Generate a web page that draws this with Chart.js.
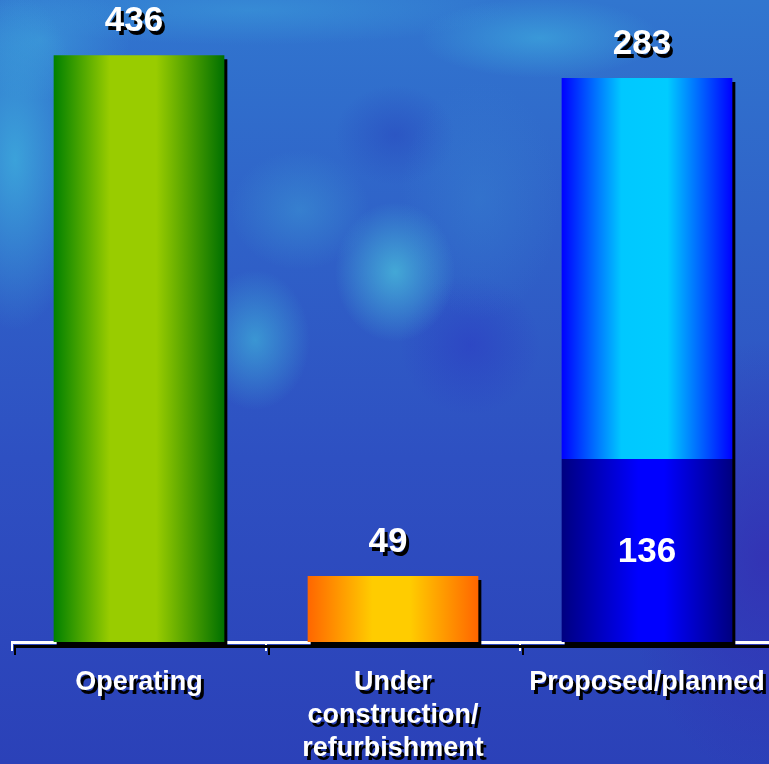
<!DOCTYPE html>
<html>
<head>
<meta charset="utf-8">
<script src="https://cdn.jsdelivr.net/npm/chart.js@4.4.1/dist/chart.umd.min.js"></script>
<style>
    html, body { margin: 0; padding: 0; width: 769px; height: 764px; overflow: hidden; }
    #bg {
        position: absolute; left: 0; top: 0; width: 769px; height: 764px;
        background:
            radial-gradient(ellipse 70px 170px at 15px 160px, rgba(62,176,222,0.8), rgba(62,176,222,0)),
            radial-gradient(ellipse 90px 60px at 40px 40px, rgba(62,160,220,0.6), rgba(62,160,220,0)),
            radial-gradient(ellipse 120px 40px at 540px 38px, rgba(62,172,222,0.65), rgba(62,172,222,0)),
            radial-gradient(ellipse 260px 35px at 250px 10px, rgba(60,160,220,0.5), rgba(60,160,220,0)),
            radial-gradient(ellipse 60px 70px at 395px 272px, rgba(72,186,218,0.8), rgba(72,186,218,0)),
            radial-gradient(ellipse 55px 70px at 255px 340px, rgba(62,170,216,0.75), rgba(62,170,216,0)),
            radial-gradient(ellipse 70px 60px at 300px 210px, rgba(60,150,212,0.55), rgba(60,150,212,0)),
            radial-gradient(ellipse 80px 120px at 480px 200px, rgba(55,130,208,0.45), rgba(55,130,208,0)),
            radial-gradient(ellipse 60px 50px at 395px 135px, rgba(40,70,190,0.55), rgba(40,70,190,0)),
            radial-gradient(ellipse 70px 70px at 470px 345px, rgba(44,60,195,0.6), rgba(44,60,195,0)),
            radial-gradient(ellipse 140px 220px at 765px 560px, rgba(52,46,178,0.8), rgba(52,46,178,0)),
            linear-gradient(to bottom, #3176cf 0%, #2f62c8 30%, #2e50c2 60%, #2b41b8 100%);
    }
    #wrap { position: absolute; left: 0; top: 0; width: 774px; height: 764px; }
</style>
</head>
<body>
<div id="bg"></div>
<div id="wrap"><canvas id="chart"></canvas></div>
<script>
// categorias e valores
const categories = ['Operating', ['Under', 'construction/', 'refurbishment'], 'Proposed/planned'];
const baseValues = [436, 49, 136];
const topValues = [null, null, 283];
const yMax = 477;

const barPct = 0.672;
const fontFamily = "'Liberation Sans', Arial, sans-serif";

// gradientes horizontais de cada barra
const baseStops = [
    [[0, '#008000'], [0.33, '#99cc00'], [0.6, '#99cc00'], [1, '#007000']],
    [[0, '#ff6600'], [0.38, '#ffcc00'], [0.6, '#ffcc00'], [1, '#ff6600']],
    [[0, '#000080'], [0.45, '#0000ff'], [0.6, '#0000ff'], [1, '#000080']]
];
const topStops = [null, null, [[0, '#0000ff'], [0.35, '#00c8ff'], [0.62, '#00ccff'], [1, '#0000ff']]];

function barFill(ctx, stopsList) {
    const stops = stopsList[ctx.dataIndex];
    if (!stops) return 'transparent';
    const chart = ctx.chart;
    const x = chart.scales.x;
    if (!chart.chartArea || !x) return stops[1][1];
    const half = (x.width / categories.length) * barPct / 2;
    const cx = x.getPixelForValue(ctx.dataIndex);
    const g = chart.ctx.createLinearGradient(cx - half, 0, cx + half, 0);
    stops.forEach(s => g.addColorStop(s[0], s[1]));
    return g;
}

// sombra preta em tudo
const shadowPlugin = {
    id: 'shadow',
    beforeDraw(chart) {
        const c = chart.ctx;
        c.shadowColor = '#000';
        c.shadowOffsetX = 3;
        c.shadowOffsetY = 4;
        c.shadowBlur = 0;
    },
    afterDraw(chart) {
        const c = chart.ctx;
        c.shadowColor = 'rgba(0,0,0,0)';
        c.shadowOffsetX = 0;
        c.shadowOffsetY = 0;
    }
};

// rótulos de valor
const valuePlugin = {
    id: 'values',
    afterDatasetsDraw(chart) {
        const c = chart.ctx;
        c.save();
        c.font = 'bold 35px ' + fontFamily;
        c.fillStyle = '#fff';
        c.textAlign = 'center';
        c.textBaseline = 'middle';
        chart.data.datasets.forEach((ds, di) => {
            const meta = chart.getDatasetMeta(di);
            meta.data.forEach((bar, i) => {
                const v = ds.data[i];
                if (v == null) return;
                const stackedAbove = di === 0 && topValues[i] != null;
                if (stackedAbove) {
                    c.shadowColor = 'rgba(0,0,0,0)';
                    c.fillText(String(v), bar.x, (bar.y + bar.base) / 2 + 2);
                    c.shadowColor = '#000';
                } else {
                    c.fillText(String(v), bar.x - 5, bar.y - 34);
                }
            });
        });
        c.restore();
    }
};

new Chart(document.getElementById('chart'), {
    type: 'bar',
    data: {
        labels: categories,
        datasets: [
            {
                data: baseValues,
                backgroundColor: ctx => barFill(ctx, baseStops),
                borderWidth: 0,
                barPercentage: barPct,
                categoryPercentage: 1,
                clip: false
            },
            {
                data: topValues,
                backgroundColor: ctx => barFill(ctx, topStops),
                borderWidth: 0,
                barPercentage: barPct,
                categoryPercentage: 1,
                clip: false
            }
        ]
    },
    options: {
        responsive: true,
        maintainAspectRatio: false,
        animation: false,
        layout: { padding: { left: 12, right: 0, top: 0, bottom: 0 } },
        plugins: { legend: { display: false }, tooltip: { enabled: false } },
        scales: {
            x: {
                stacked: true,
                afterFit(scale) {
                    scale.height = 122;
                    scale.paddingLeft = 0;
                    scale.paddingRight = 0;
                },
                grid: {
                    display: true,
                    drawOnChartArea: false,
                    drawTicks: true,
                    tickLength: 9,
                    color: '#fff',
                    lineWidth: 2,
                    offset: true
                },
                border: { display: true, color: '#fff', width: 3 },
                ticks: {
                    color: '#fff',
                    padding: 15,
                    maxRotation: 0,
                    autoSkip: false,
                    font: { family: fontFamily, size: 27, weight: 'bold', lineHeight: 1.22 }
                }
            },
            y: {
                stacked: true,
                display: false,
                min: 0,
                max: yMax
            }
        }
    },
    plugins: [shadowPlugin, valuePlugin]
});
</script>
</body>
</html>
